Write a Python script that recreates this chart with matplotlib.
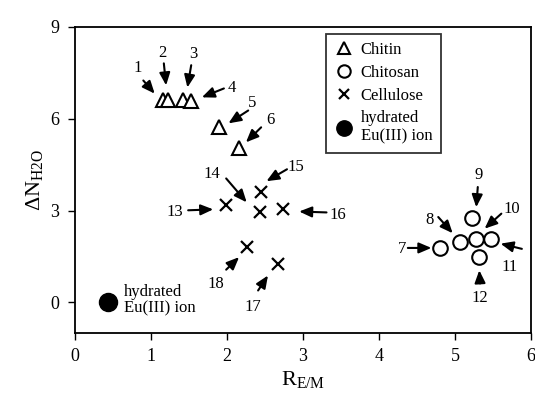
import matplotlib
matplotlib.use("Agg")
import matplotlib.pyplot as plt

plt.rcParams["font.family"] = ["Liberation Serif", "DejaVu Serif"]
plt.rcParams["mathtext.fontset"] = "custom"
plt.rcParams["mathtext.rm"] = "Liberation Serif"
plt.rcParams["mathtext.it"] = "Liberation Serif:italic"

# data
chitin_x = [1.16, 1.22, 1.42, 1.53, 1.90, 2.16]
chitin_y = [6.62, 6.62, 6.62, 6.58, 5.72, 5.03]

chitosan_x = [4.80, 5.07, 5.23, 5.28, 5.48, 5.31]
chitosan_y = [1.78, 1.96, 2.77, 2.06, 2.06, 1.50]

cellulose_x = [1.99, 2.44, 2.45, 2.74, 2.67, 2.27]
cellulose_y = [3.19, 2.94, 3.62, 3.06, 1.26, 1.81]

eu_x = [0.43]
eu_y = [0.02]

# label, text position, arrow tail, arrow head
labels = [
    ("1", (0.83, 7.67), (0.90, 7.25), (1.05, 6.82)),
    ("2", (1.15, 8.14), (1.17, 7.81), (1.20, 7.09)),
    ("3", (1.56, 8.10), (1.53, 7.75), (1.48, 7.02)),
    ("4", (2.07, 6.99), (1.96, 6.99), (1.67, 6.70)),
    ("5", (2.33, 6.50), (2.28, 6.27), (2.02, 5.85)),
    ("6", (2.57, 5.95), (2.45, 5.72), (2.25, 5.23)),
    ("7", (4.30, 1.75), (4.38, 1.78), (4.69, 1.78)),
    ("8", (4.67, 2.68), (4.78, 2.79), (4.97, 2.26)),
    ("9", (5.31, 4.15), (5.30, 3.77), (5.28, 3.11)),
    ("10", (5.75, 3.06), (5.61, 2.90), (5.39, 2.41)),
    ("11", (5.72, 1.15), (5.88, 1.75), (5.60, 1.92)),
    ("12", (5.33, 0.16), (5.33, 0.62), (5.32, 1.05)),
    ("13", (1.32, 2.97), (1.49, 3.01), (1.82, 3.04)),
    ("14", (1.80, 4.18), (1.99, 4.05), (2.26, 3.27)),
    ("15", (2.91, 4.41), (2.79, 4.35), (2.52, 3.96)),
    ("16", (3.46, 2.84), (3.31, 2.94), (2.95, 2.97)),
    ("17", (2.34, -0.15), (2.41, 0.39), (2.54, 0.88)),
    ("18", (1.86, 0.61), (1.99, 1.07), (2.16, 1.48)),
]

fig = plt.figure(figsize=(5.35, 3.96), dpi=100)
ax = fig.add_axes([0.140, 0.159, 0.8525, 0.773])

ax.plot(chitin_x, chitin_y, "^", ms=10, mfc="white", mec="black", mew=1.5,
        ls="none", label="Chitin")
ax.plot(chitosan_x, chitosan_y, "o", ms=10.5, mfc="white", mec="black", mew=1.5,
        ls="none", label="Chitosan")
ax.plot(cellulose_x, cellulose_y, "x", ms=8, color="black", mew=1.6,
        ls="none", label="Cellulose")
ax.plot(eu_x, eu_y, "o", ms=13, color="black", ls="none",
        label="hydrated\nEu(III) ion")

ax.text(0.645, 0.07, "hydrated\nEu(III) ion", fontsize=12, va="center",
        ha="left", linespacing=1.0)

for txt, pos, tail, head in labels:
    ax.text(pos[0], pos[1], txt, fontsize=12, ha="center", va="center")
    ax.annotate("", xy=head, xytext=tail,
                arrowprops=dict(arrowstyle="-|>,head_length=0.75,head_width=0.32",
                                color="black", lw=1.5, shrinkA=0, shrinkB=0))

ax.set_xlim(0, 6)
ax.set_ylim(-1, 9)
ax.set_xticks(range(0, 7))
ax.set_yticks([0, 3, 6, 9])
ax.tick_params(direction="out", length=5, width=1, labelsize=13, pad=6)
for s in ax.spines.values():
    s.set_linewidth(1.3)

ax.set_xlabel(r"R$_{\mathregular{E/M}}$", fontsize=16, labelpad=3)
ax.set_ylabel(r"$\Delta$N$_{\mathregular{H2O}}$", fontsize=16, labelpad=4)

leg = ax.legend(loc="upper left", bbox_to_anchor=(0.55, 0.977), fontsize=12,
                frameon=True, fancybox=False, edgecolor="black",
                handletextpad=0.4, handlelength=1.2, borderpad=0.5,
                labelspacing=0.4, markerscale=0.85, borderaxespad=0)
leg.get_frame().set_linewidth(1.3)

fig.savefig("out.png", dpi=100)
